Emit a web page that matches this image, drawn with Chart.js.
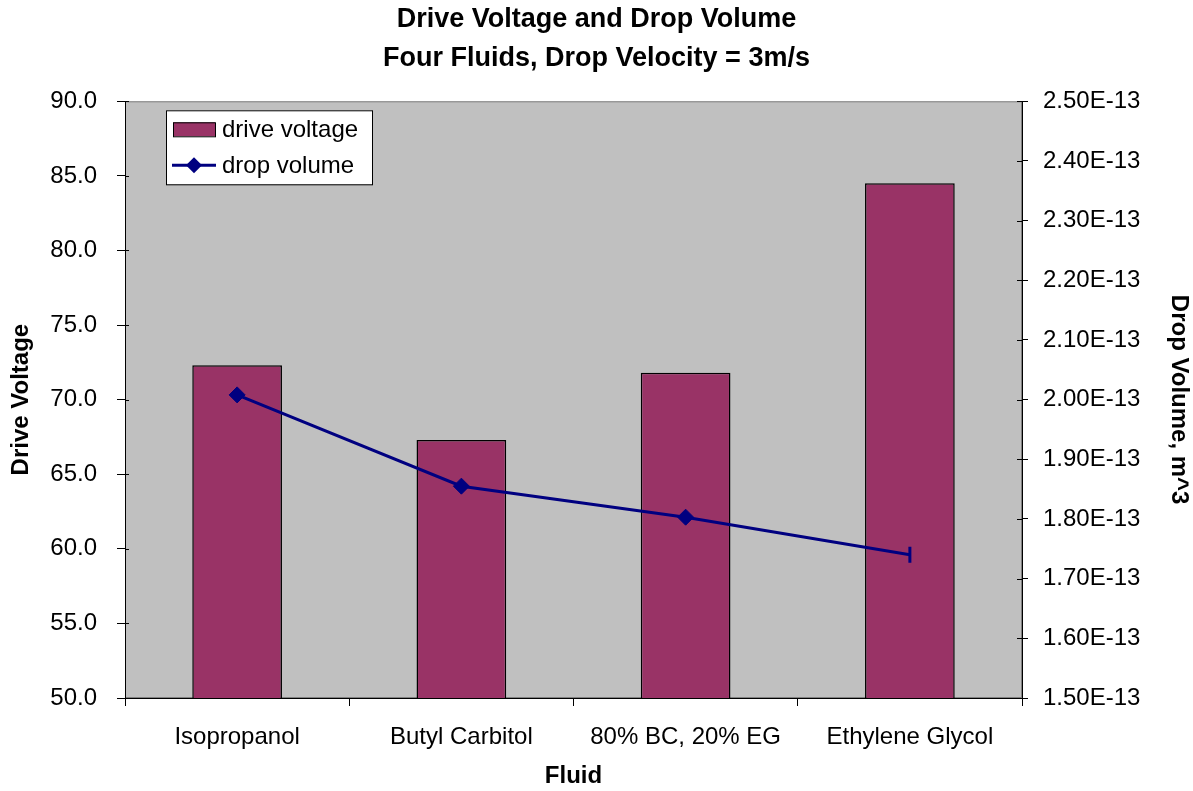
<!DOCTYPE html>
<html>
<head>
<meta charset="utf-8">
<script src="https://cdn.jsdelivr.net/npm/chart.js@4.4.1/dist/chart.umd.min.js"></script>
<style>
  html, body { margin: 0; padding: 0; background: #ffffff; }
  #wrap { width: 1193px; height: 791px; }
</style>
</head>
<body>
<div id="wrap"><canvas id="dropChart"></canvas></div>
<script>
// chart data
const fluids = ['Isopropanol', 'Butyl Carbitol', '80% BC, 20% EG', 'Ethylene Glycol'];
const driveVoltage = [72.3, 67.3, 71.8, 84.5];
const dropVolume = [2.008e-13, 1.855e-13, 1.803e-13, 1.740e-13];
const titleLines = ['Drive Voltage and Drop Volume', 'Four Fluids, Drop Velocity = 3m/s'];

const FONT = 'Liberation Sans, Arial, sans-serif';
const BAR_COLOR = '#993366';
const LINE_COLOR = '#000080';

// grey plot area + frame
const plotBackground = {
    id: 'plotBackground',
    beforeDraw(chart) {
        const { ctx, chartArea: a } = chart;
        ctx.save();
        ctx.fillStyle = '#c0c0c0';
        ctx.fillRect(a.left, a.top, a.right - a.left, a.bottom - a.top);
        ctx.strokeStyle = '#808080';
        ctx.lineWidth = 1;
        ctx.strokeRect(a.left + 0.5, a.top + 0.5, a.right - a.left - 1, a.bottom - a.top - 1);
        ctx.restore();
    },
    afterDatasetsDraw(chart) {
        // short inward tick marks on both value axes
        const { ctx, chartArea: a } = chart;
        ctx.save();
        ctx.strokeStyle = '#000';
        ctx.lineWidth = 1;
        [['y', a.left, 4], ['y1', a.right, -5]].forEach(([id, x, len]) => {
            const s = chart.scales[id];
            s.ticks.forEach((t, i) => {
                const y = Math.round(s.getPixelForTick(i)) + 0.5;
                ctx.beginPath();
                ctx.moveTo(x, y);
                ctx.lineTo(x + len, y);
                ctx.stroke();
            });
        });
        ctx.restore();
    }
};

// legend box inside the plot area
const boxLegend = {
    id: 'boxLegend',
    afterDraw(chart) {
        const { ctx, chartArea: a } = chart;
        const barSet = chart.data.datasets.find(d => d.type === 'bar');
        const lineSet = chart.data.datasets.find(d => d.type === 'line');
        const x = a.left + 41, y = a.top + 9, w = 206, h = 74;
        ctx.save();
        ctx.fillStyle = '#ffffff';
        ctx.fillRect(x, y, w, h);
        ctx.strokeStyle = '#000';
        ctx.lineWidth = 1;
        ctx.strokeRect(x + 0.5, y + 0.5, w, h);

        ctx.font = '24px ' + FONT;
        ctx.textBaseline = 'middle';

        // bar swatch
        ctx.fillStyle = BAR_COLOR;
        ctx.fillRect(x + 7, y + 12, 42, 14);
        ctx.strokeStyle = '#000';
        ctx.strokeRect(x + 7.5, y + 12.5, 42, 14);
        ctx.fillStyle = '#000';
        ctx.fillText(barSet.label, x + 56, y + 20);

        // line swatch
        const ly = y + 55;
        ctx.strokeStyle = LINE_COLOR;
        ctx.lineWidth = 3;
        ctx.beginPath();
        ctx.moveTo(x + 6, ly);
        ctx.lineTo(x + 50, ly);
        ctx.stroke();
        ctx.fillStyle = LINE_COLOR;
        ctx.beginPath();
        ctx.moveTo(x + 28, ly - 8);
        ctx.lineTo(x + 36, ly);
        ctx.lineTo(x + 28, ly + 8);
        ctx.lineTo(x + 20, ly);
        ctx.closePath();
        ctx.fill();
        ctx.fillStyle = '#000';
        ctx.fillText(lineSet.label, x + 56, ly + 1);
        ctx.restore();
    }
};

const ctx = document.getElementById('dropChart').getContext('2d');

new Chart(ctx, {
    data: {
        labels: fluids,
        datasets: [
            {
                type: 'line',
                label: 'drop volume',
                data: dropVolume,
                yAxisID: 'y1',
                borderColor: LINE_COLOR,
                backgroundColor: LINE_COLOR,
                borderWidth: 3,
                pointStyle: ['rectRot', 'rectRot', 'rectRot', 'line'],
                rotation: [0, 0, 0, 90],
                pointRadius: [8, 8, 8, 8],
                pointBorderWidth: [1, 1, 1, 3],
                tension: 0,
                order: 0
            },
            {
                type: 'bar',
                label: 'drive voltage',
                data: driveVoltage,
                yAxisID: 'y',
                backgroundColor: BAR_COLOR,
                borderColor: '#000000',
                borderWidth: 1.5,
                barPercentage: 0.4,
                categoryPercentage: 1.0,
                order: 1
            }
        ]
    },
    options: {
        responsive: true,
        maintainAspectRatio: false,
        animation: false,
        layout: { padding: 0 },
        plugins: {
            legend: { display: false },
            tooltip: { enabled: false },
            title: {
                display: true,
                text: titleLines,
                color: '#000',
                font: { family: FONT, size: 27, weight: 'bold', lineHeight: 1.45 },
                padding: { top: 0, bottom: 23 }
            }
        },
        scales: {
            x: {
                offset: true,
                grid: {
                    offset: true,
                    drawOnChartArea: false,
                    color: '#000',
                    tickLength: 8,
                    tickWidth: 1
                },
                border: { color: '#000', width: 1 },
                ticks: { color: '#000', font: { family: FONT, size: 24 }, padding: 17, maxRotation: 0 },
                title: { display: true, text: 'Fluid', color: '#000', font: { family: FONT, size: 24, weight: 'bold' }, padding: { top: 0, bottom: 0 } },
                afterFit(scale) { scale.height = 93; }
            },
            y: {
                position: 'left',
                min: 50,
                max: 90,
                ticks: {
                    stepSize: 5,
                    color: '#000',
                    font: { family: FONT, size: 24 },
                    padding: 20,
                    callback: v => Number(v).toFixed(1)
                },
                grid: { drawOnChartArea: false, color: '#000', tickLength: 8 },
                border: { color: '#000', width: 1 },
                title: { display: true, text: 'Drive Voltage', color: '#000', font: { family: FONT, size: 24, weight: 'bold' }, padding: { bottom: 0, top: 7 } },
                afterFit(scale) { scale.width = 125; }
            },
            y1: {
                position: 'right',
                min: 1.5e-13,
                max: 2.5e-13,
                ticks: {
                    stepSize: 1e-14,
                    color: '#000',
                    font: { family: FONT, size: 24 },
                    padding: 15,
                    callback: v => Number(v).toExponential(2).toUpperCase()
                },
                grid: { drawOnChartArea: false, color: '#000', tickLength: 6 },
                border: { color: '#000', width: 1 },
                title: { display: true, text: 'Drop Volume, m^3', color: '#000', font: { family: FONT, size: 24, weight: 'bold' }, padding: { top: 0, bottom: 2 } },
                afterFit(scale) { scale.width = 171; }
            }
        }
    },
    plugins: [plotBackground, boxLegend]
});
</script>
</body>
</html>
